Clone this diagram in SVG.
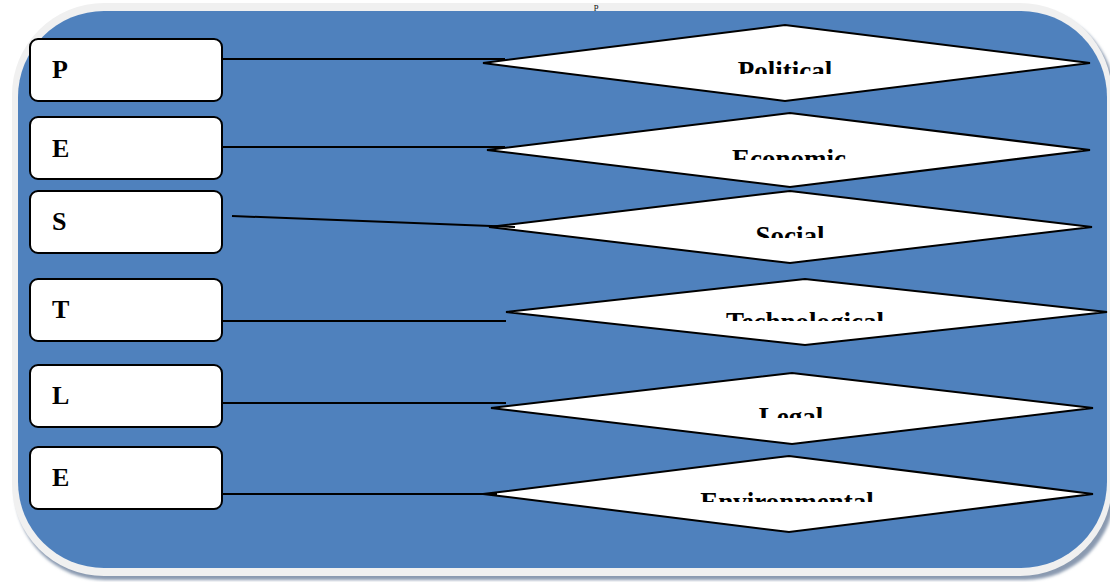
<svg xmlns="http://www.w3.org/2000/svg" width="1110" height="582" viewBox="0 0 1110 582">
<style>
.box{fill:#fff;stroke:#000;stroke-width:2}
.dia{fill:#fff;stroke:#000;stroke-width:2;stroke-linejoin:miter}
.lt{font-family:"Liberation Serif","Times New Roman",serif;font-weight:bold;font-size:26px;fill:#000}
.dt{font-family:"Liberation Serif","Times New Roman",serif;font-weight:bold;font-size:27px;fill:#000;text-anchor:middle}
.con{stroke:#000;stroke-width:2;fill:none}
</style>
<defs>
<clipPath id="c1"><rect x="600" y="40" width="380" height="34"/></clipPath>
<clipPath id="c2"><rect x="600" y="130" width="380" height="30"/></clipPath>
<clipPath id="c3"><rect x="600" y="210" width="380" height="28"/></clipPath>
<clipPath id="c4"><rect x="600" y="295" width="380" height="26"/></clipPath>
<clipPath id="c5"><rect x="600" y="390" width="380" height="28"/></clipPath>
<clipPath id="c6"><rect x="600" y="470" width="380" height="32"/></clipPath>
<filter id="sh" x="-5%" y="-5%" width="110%" height="110%"><feGaussianBlur stdDeviation="1.5"/></filter>
</defs>
<rect width="1110" height="582" fill="#fff"/>
<g id="background">
<rect x="15" y="8" width="1100" height="572" rx="90" fill="#8a9ab0" filter="url(#sh)"/>
<rect x="12" y="3" width="1100" height="573" rx="92" fill="#f0f0f0"/>
<rect x="18" y="11" width="1089" height="557" rx="86" fill="#4f81bd"/>
</g>
<text x="594" y="9" font-family="Liberation Serif,serif" font-size="9" fill="#000">p</text>
<g id="node-P"><rect class="box" x="30" y="39" width="192" height="62" rx="8"/><text class="lt" x="52" y="78">P</text></g>
<g id="node-E1"><rect class="box" x="30" y="117" width="192" height="62" rx="8"/><text class="lt" x="52" y="157">E</text></g>
<g id="node-S"><rect class="box" x="30" y="191" width="192" height="62" rx="8"/><text class="lt" x="52" y="230">S</text></g>
<g id="node-T"><rect class="box" x="30" y="279" width="192" height="62" rx="8"/><text class="lt" x="52" y="318">T</text></g>
<g id="node-L"><rect class="box" x="30" y="365" width="192" height="62" rx="8"/><text class="lt" x="52" y="404">L</text></g>
<g id="node-E2"><rect class="box" x="30" y="447" width="192" height="62" rx="8"/><text class="lt" x="52" y="486">E</text></g>
<g id="node-political"><polygon class="dia" points="483,63 785,25 1090,63 785,101"/><text class="dt" x="785" y="80" clip-path="url(#c1)">Political</text></g>
<g id="node-economic"><polygon class="dia" points="487,150 790,113 1090,150 790,187"/><text class="dt" x="789" y="168" clip-path="url(#c2)">Economic</text></g>
<g id="node-social"><polygon class="dia" points="489,227 790,191 1092,227 790,263"/><text class="dt" x="790" y="245" clip-path="url(#c3)">Social</text></g>
<g id="node-technological"><polygon class="dia" points="506,312 805,279 1107,312 805,345"/><text class="dt" x="805" y="331" clip-path="url(#c4)">Technological</text></g>
<g id="node-legal"><polygon class="dia" points="491,408 792,373 1093,408 792,444"/><text class="dt" x="791" y="426" clip-path="url(#c5)">Legal</text></g>
<g id="node-environmental"><polygon class="dia" points="483,494 789,456 1093,494 789,532"/><text class="dt" x="787" y="511" clip-path="url(#c6)">Environmental</text></g>
<g id="connectors">
<line class="con" x1="222" y1="59" x2="505" y2="59"/>
<line class="con" x1="222" y1="147" x2="505" y2="147"/>
<line class="con" x1="232" y1="216" x2="515" y2="227"/>
<line class="con" x1="222" y1="321" x2="506" y2="321"/>
<line class="con" x1="222" y1="403" x2="506" y2="403"/>
<line class="con" x1="222" y1="494" x2="497" y2="494"/>
</g>
</svg>
